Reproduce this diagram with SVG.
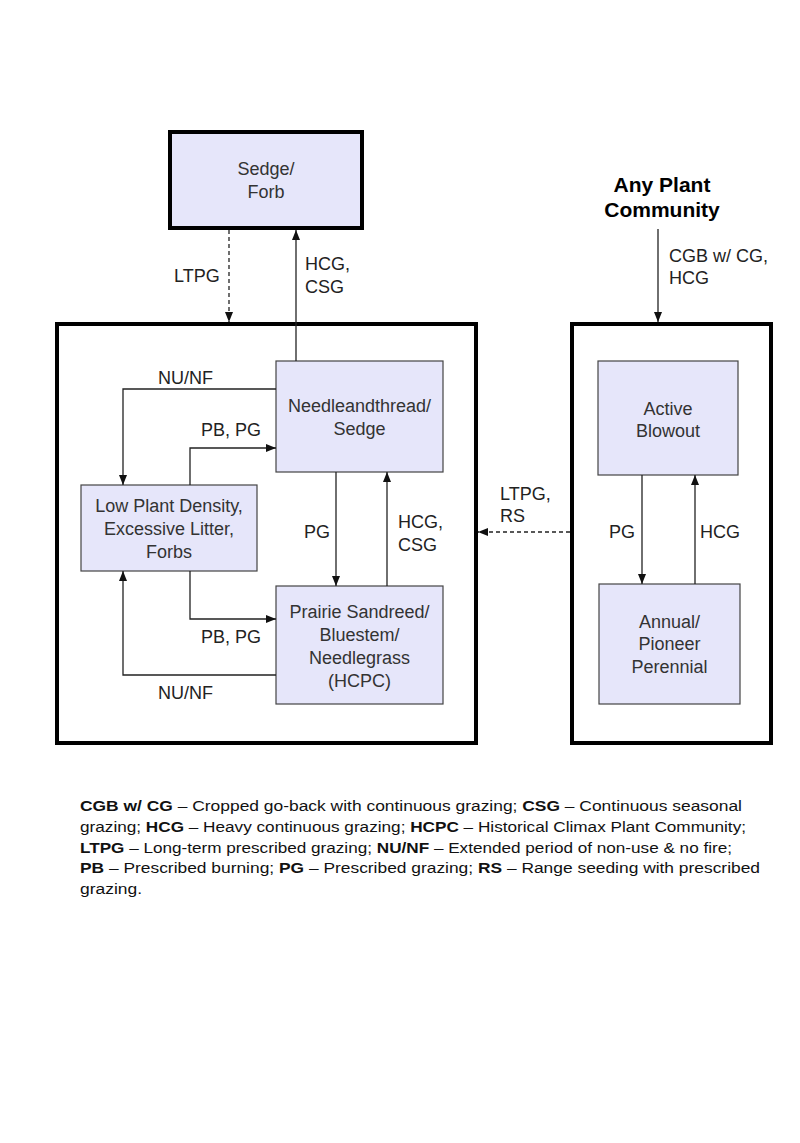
<svg xmlns="http://www.w3.org/2000/svg" width="800" height="1143" viewBox="0 0 800 1143">
<style>
.node{fill:#E6E6FA;stroke:#444;stroke-width:1.2}
.frame{fill:none;stroke:#000;stroke-width:4}
.nt{font-family:"Liberation Sans",Arial,sans-serif;font-size:18px;fill:#333;text-anchor:middle}
.lb{font-family:"Liberation Sans",Arial,sans-serif;font-size:18px;fill:#222}
.c{fill:none;stroke:#222;stroke-width:1.3;marker-end:url(#ah)}
.d{stroke-dasharray:4 3}
.lg{font-family:"Liberation Sans",Arial,sans-serif;font-size:15.5px;fill:#111}
.lg tspan.b{font-weight:bold}
</style>
<defs>
<marker id="ah" markerUnits="userSpaceOnUse" markerWidth="10" markerHeight="10" viewBox="0 0 10 10" refX="10" refY="5" orient="auto">
<path d="M0,1 L10,5 L0,9 Z" fill="#111"/>
</marker>
</defs>
<rect width="800" height="1143" fill="#fff"/>

<g id="frame-left"><rect class="frame" x="57" y="324" width="419" height="419"/></g>
<g id="frame-right"><rect class="frame" x="572" y="324" width="199" height="419"/></g>

<g id="sedge-forb">
<rect x="170" y="132" width="192" height="96" fill="#E6E6FA" stroke="#000" stroke-width="4"/>
<text class="nt" x="266" y="175">Sedge/</text>
<text class="nt" x="266" y="198">Forb</text>
</g>

<g id="needleandthread">
<rect class="node" x="276" y="361" width="167" height="111"/>
<text class="nt" x="359.5" y="412">Needleandthread/</text>
<text class="nt" x="359.5" y="435">Sedge</text>
</g>

<g id="low-plant-density">
<rect class="node" x="81" y="485" width="176" height="86"/>
<text class="nt" x="169" y="512">Low Plant Density,</text>
<text class="nt" x="169" y="535">Excessive Litter,</text>
<text class="nt" x="169" y="558">Forbs</text>
</g>

<g id="prairie-sandreed">
<rect class="node" x="276" y="586" width="167" height="118"/>
<text class="nt" x="359.5" y="618">Prairie Sandreed/</text>
<text class="nt" x="359.5" y="641">Bluestem/</text>
<text class="nt" x="359.5" y="664">Needlegrass</text>
<text class="nt" x="359.5" y="687">(HCPC)</text>
</g>

<g id="active-blowout">
<rect class="node" x="598" y="361" width="140" height="114"/>
<text class="nt" x="668" y="415">Active</text>
<text class="nt" x="668" y="437">Blowout</text>
</g>

<g id="annual-pioneer">
<rect class="node" x="599" y="584" width="141" height="120"/>
<text class="nt" x="669.5" y="628">Annual/</text>
<text class="nt" x="669.5" y="650">Pioneer</text>
<text class="nt" x="669.5" y="673">Perennial</text>
</g>

<g id="any-plant-community">
<text x="662" y="192" font-family="Liberation Sans,Arial,sans-serif" font-size="21" font-weight="bold" text-anchor="middle" fill="#000">Any Plant</text>
<text x="662" y="217" font-family="Liberation Sans,Arial,sans-serif" font-size="21" font-weight="bold" text-anchor="middle" fill="#000">Community</text>
</g>

<g id="connectors">
<path class="c d" d="M229,230 V322"/>
<path class="c" d="M296,361 V230"/>
<path class="c" d="M276,389 H123 V485"/>
<path class="c" d="M190,485 V448 H276"/>
<path class="c" d="M336,472 V586"/>
<path class="c" d="M387,586 V472"/>
<path class="c" d="M190,571 V619 H276"/>
<path class="c" d="M276,675 H123 V571"/>
<path class="c" d="M658,229 V322"/>
<path class="c d" d="M570,532 H478"/>
<path class="c" d="M642,475 V584"/>
<path class="c" d="M695,584 V475"/>
</g>

<g id="labels">
<text class="lb" x="174" y="282">LTPG</text>
<text class="lb" x="305" y="270">HCG,</text>
<text class="lb" x="305" y="293">CSG</text>
<text class="lb" x="158" y="384">NU/NF</text>
<text class="lb" x="201" y="436">PB, PG</text>
<text class="lb" x="304" y="538">PG</text>
<text class="lb" x="398" y="528">HCG,</text>
<text class="lb" x="398" y="551">CSG</text>
<text class="lb" x="201" y="643">PB, PG</text>
<text class="lb" x="158" y="699">NU/NF</text>
<text class="lb" x="669" y="262">CGB w/ CG,</text>
<text class="lb" x="669" y="284">HCG</text>
<text class="lb" x="500" y="500">LTPG,</text>
<text class="lb" x="500" y="522">RS</text>
<text class="lb" x="609" y="538">PG</text>
<text class="lb" x="700" y="538">HCG</text>
</g>

<g id="legend">
<text class="lg" x="80" y="811" textLength="662" lengthAdjust="spacingAndGlyphs"><tspan class="b">CGB w/ CG</tspan> – Cropped go-back with continuous grazing; <tspan class="b">CSG</tspan> – Continuous seasonal</text>
<text class="lg" x="80" y="832" textLength="666" lengthAdjust="spacingAndGlyphs">grazing; <tspan class="b">HCG</tspan> – Heavy continuous grazing; <tspan class="b">HCPC</tspan> – Historical Climax Plant Community;</text>
<text class="lg" x="80" y="853" textLength="652" lengthAdjust="spacingAndGlyphs"><tspan class="b">LTPG</tspan> – Long-term prescribed grazing; <tspan class="b">NU/NF</tspan> – Extended period of non-use &amp; no fire;</text>
<text class="lg" x="80" y="873" textLength="680" lengthAdjust="spacingAndGlyphs"><tspan class="b">PB</tspan> – Prescribed burning; <tspan class="b">PG</tspan> – Prescribed grazing; <tspan class="b">RS</tspan> – Range seeding with prescribed</text>
<text class="lg" x="80" y="894" textLength="62" lengthAdjust="spacingAndGlyphs">grazing.</text>
</g>
</svg>
